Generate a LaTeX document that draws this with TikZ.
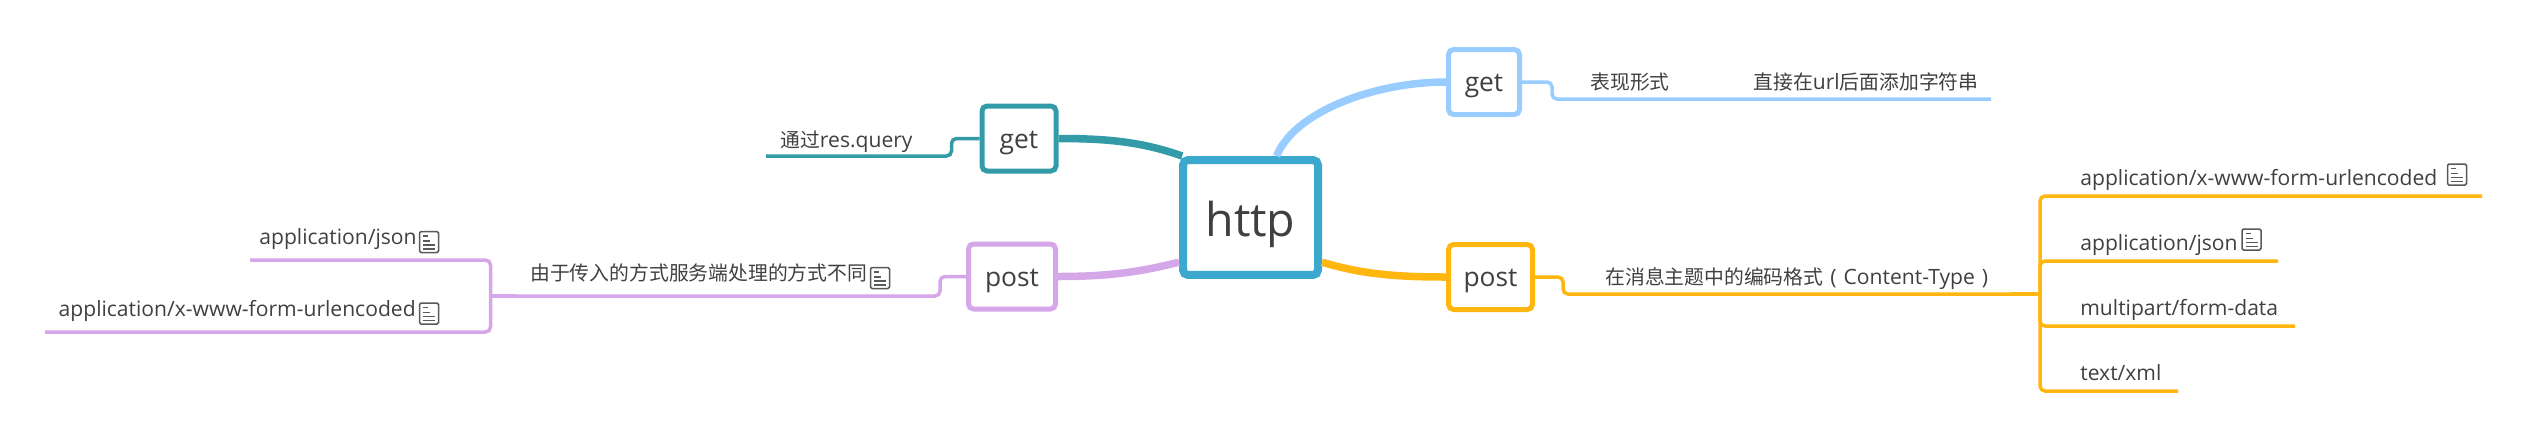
\documentclass[tikz,border=0pt]{standalone}
\usepackage{fontspec}
\setmainfont{Open Sans}
\newfontfamily\cjk[Scale=0.94]{Noto Sans CJK SC}
\usepackage{xcolor}
\usetikzlibrary{positioning}
\definecolor{hubblue}{HTML}{3DA8CE}
\definecolor{skyline}{HTML}{99CCFF}
\definecolor{amberline}{HTML}{FFB60F}
\definecolor{tealline}{HTML}{339BA8}
\definecolor{lilacline}{HTML}{D5A6E8}
\definecolor{inktext}{HTML}{404040}
\definecolor{noteink}{HTML}{595959}
\tikzset{
  hub/.style={draw=hubblue,line width=0.16cm,rounded corners=0.1cm,fill=white,
    minimum width=2.7cm,minimum height=2.3cm,inner sep=0pt,text=inktext,
    text height=22pt,text depth=0pt,font=\fontsize{26.5}{30}\selectfont},
  topicbox/.style={draw=#1,line width=0.1cm,rounded corners=0.1cm,fill=white,
    minimum height=1.3cm,inner sep=0pt,text=inktext,
    text height=11.3pt,text depth=0pt,font=\fontsize{15}{18}\selectfont},
  leaf/.style={inner sep=0pt,text=inktext,font=\fontsize{12}{14}\selectfont},
  branch/.style={draw=#1,line width=0.15cm},
  subline/.style={draw=#1,line width=0.07cm,rounded corners=0.1cm},
  notemark/.pic={
    \draw[noteink,line width=0.03cm,rounded corners=0.03cm] (-9.5,-10.5) rectangle (9.5,10.5);
    \draw[noteink,line width=0.03cm] (-6,-6) -- (-1,-6) (-6,-1) -- (1,-1) (-6,3) -- (6,3) (-6,7) -- (6,7);
  },
}
\begin{document}
\begin{tikzpicture}[x=0.02cm,y=-0.02cm]
  \useasboundingbox (0,0) rectangle (2543,437);
  % thick branches go under the boxes
  \node[hub] (http) at (1250.5,217.5) {http};
  \node[topicbox=skyline,minimum width=1.42cm] (getR) at (1484,82) {get};
  \node[topicbox=amberline,minimum width=1.68cm] (postR) at (1490.5,277) {post};
  \node[topicbox=tealline,minimum width=1.48cm] (getL) at (1019,138.5) {get};
  \node[topicbox=lilacline,minimum width=1.74cm] (postL) at (1012,276.5) {post};
  \draw[branch=skyline] (http.67) .. controls +(18,-45) and +(-70,0) .. (getR.west);
  \draw[branch=amberline] (http.-32) .. controls +(40,12) and +(-50,0) .. (postR.west);
  \draw[branch=tealline] (http.138) .. controls +(-40,-14) and +(50,0) .. (getL.east);
  \draw[branch=lilacline] (http.212) .. controls +(-40,10) and +(50,0) .. (postL.east);

  % upper right
  \node[leaf] (formR) at (1630,82) {\cjk 表现形式};
  \node[leaf,anchor=base] (urlR) at (1866,89) {{\cjk 直接在}url{\cjk 后面添加字符串}};
  \coordinate (urlEnd) at (1991,99);
  \draw[subline=skyline] (getR.east) -- ++(30,0) |- (urlEnd);

  % lower right
  \node[leaf,anchor=base west] (typeR) at (1605,284) {{\cjk 在消息主题中的编码格式}\hspace{4pt}(\hspace{4pt}Content-Type\hspace{4pt})};
  \coordinate (typeFork) at (2040,294);
  \draw[subline=amberline] (postR.east) -- ++(28,0) |- (typeFork);
  \draw[amberline,line width=0.09cm] (2011,294) -- (typeFork);
  \foreach \n/\t/\y/\e in {urlencR/{application/x-www-form-urlencoded}/196/2482,
      jsonR/{application/json}/261/2278,
      multiR/{multipart/form-data}/326/2295,
      xmlR/{text/xml}/391/2178}{
    \node[leaf,anchor=base west] (\n) at (2080,\y-11) {\t};
    \coordinate (\n End) at (\e,\y);
    \draw[subline=amberline] (typeFork) |- (\n End);
  }
  \pic at (2457,174.5) {notemark};
  \pic at (2251.5,239.5) {notemark};

  % upper left
  \node[leaf,anchor=base west] (queryL) at (780,147) {{\cjk 通过}res.query};
  \coordinate (queryEnd) at (766,156);
  \draw[subline=tealline] (getL.west) -- ++(-28,0) |- (queryEnd);

  % lower left
  \node[leaf,anchor=base west] (diffL) at (530,280) {\cjk 由于传入的方式服务端处理的方式不同};
  \coordinate (diffFork) at (490.5,296);
  \draw[subline=lilacline] (postL.west) -- ++(-26,0) |- (diffFork);
  \draw[lilacline,line width=0.09cm] (517,296) -- (diffFork);
  \foreach \n/\t/\x/\y/\e in {jsonL/{application/json}/417/260/250,
      urlencL/{application/x-www-form-urlencoded}/416/332/45}{
    \node[leaf,anchor=base east] (\n) at (\x,\y-16) {\t};
    \coordinate (\n End) at (\e,\y);
    \draw[subline=lilacline] (diffFork) |- (\n End);
  }
  \pic at (429,242) {notemark};
  \pic at (429,313.5) {notemark};
  \pic at (880,278) {notemark};
\end{tikzpicture}
\end{document}
